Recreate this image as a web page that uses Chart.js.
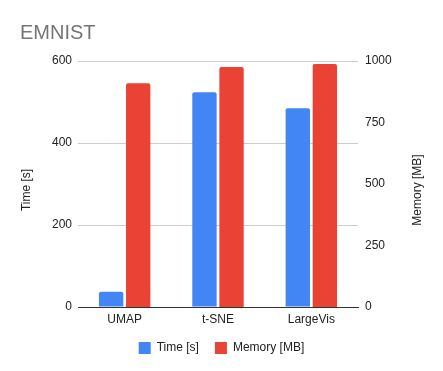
<!DOCTYPE html>
<html>
<head>
<meta charset="utf-8">
<script src="https://cdn.jsdelivr.net/npm/chart.js@4"></script>
<style>
  html, body { margin: 0; padding: 0; background: #fff; }
  #wrap { width: 443px; height: 371px; }
</style>
</head>
<body>
<div id="wrap"><canvas id="chart"></canvas></div>
<script>
// data
const categories = ['UMAP', 't-SNE', 'LargeVis'];
const timeSec = [37, 524, 485];
const memoryMB = [910, 976, 988];
const timeTicks = [0, 200, 400, 600];
const memoryTicks = [0, 250, 500, 750, 1000];

const FONT = 'Arial, "Liberation Sans", sans-serif';

// title and rotated axis titles drawn by hand
const textPlugin = {
    id: 'texts',
    afterDraw(chart) {
        const ctx = chart.ctx;
        const area = chart.chartArea;
        const midY = (area.top + area.bottom) / 2 + 6;
        ctx.save();
        ctx.fillStyle = '#757575';
        ctx.font = '20px ' + FONT;
        ctx.textAlign = 'left';
        ctx.textBaseline = 'alphabetic';
        ctx.fillText('EMNIST', 20, 39);

        ctx.fillStyle = '#222';
        ctx.font = '12px ' + FONT;
        ctx.textAlign = 'center';
        ctx.textBaseline = 'middle';
        ctx.translate(27, midY);
        ctx.rotate(-Math.PI / 2);
        ctx.fillText('Time [s]', 0, 0);
        ctx.restore();

        ctx.save();
        ctx.fillStyle = '#222';
        ctx.font = '12px ' + FONT;
        ctx.textAlign = 'center';
        ctx.textBaseline = 'middle';
        ctx.translate(418, midY);
        ctx.rotate(-Math.PI / 2);
        ctx.fillText('Memory [MB]', 0, 0);
        ctx.restore();
    }
};

const ctx = document.getElementById('chart').getContext('2d');
new Chart(ctx, {
    type: 'bar',
    data: {
        labels: categories,
        datasets: [{
            label: 'Time [s]',
            data: timeSec,
            yAxisID: 'y',
            backgroundColor: '#4285F4',
            borderRadius: 2,
            borderSkipped: 'start'
        }, {
            label: 'Memory [MB]',
            data: memoryMB,
            yAxisID: 'y1',
            backgroundColor: '#EA4335',
            borderRadius: 2,
            borderSkipped: 'start'
        }]
    },
    options: {
        responsive: true,
        maintainAspectRatio: false,
        animation: false,
        categoryPercentage: 0.58,
        barPercentage: 0.9,
        layout: { padding: { top: 61, left: 0, right: 0, bottom: 7 } },
        scales: {
            x: {
                grid: { display: false, drawTicks: false },
                border: { display: true, color: '#333', width: 1 },
                ticks: { color: '#222', font: { family: FONT, size: 12 }, padding: 5 },
                afterFit(scale) { scale.height = 19; }
            },
            y: {
                position: 'left',
                min: 0,
                max: 600,
                afterBuildTicks(scale) { scale.ticks = timeTicks.map(v => ({ value: v })); },
                grid: { color: '#cccccc', drawTicks: false },
                border: { display: false },
                ticks: { color: '#222', font: { family: FONT, size: 12 }, padding: 6, callback: v => String(v) },
                afterFit(scale) { scale.width = 78; }
            },
            y1: {
                position: 'right',
                min: 0,
                max: 1000,
                afterBuildTicks(scale) { scale.ticks = memoryTicks.map(v => ({ value: v })); },
                grid: { display: false, drawTicks: false },
                border: { display: false },
                ticks: { color: '#222', font: { family: FONT, size: 12 }, padding: 7, callback: v => String(v) },
                afterFit(scale) { scale.width = 85; }
            }
        },
        plugins: {
            title: { display: false },
            tooltip: { enabled: false },
            legend: {
                position: 'bottom',
                labels: {
                    color: '#222',
                    font: { family: FONT, size: 12 },
                    boxWidth: 12,
                    boxHeight: 12,
                    padding: 16
                }
            }
        }
    },
    plugins: [textPlugin]
});
</script>
</body>
</html>
